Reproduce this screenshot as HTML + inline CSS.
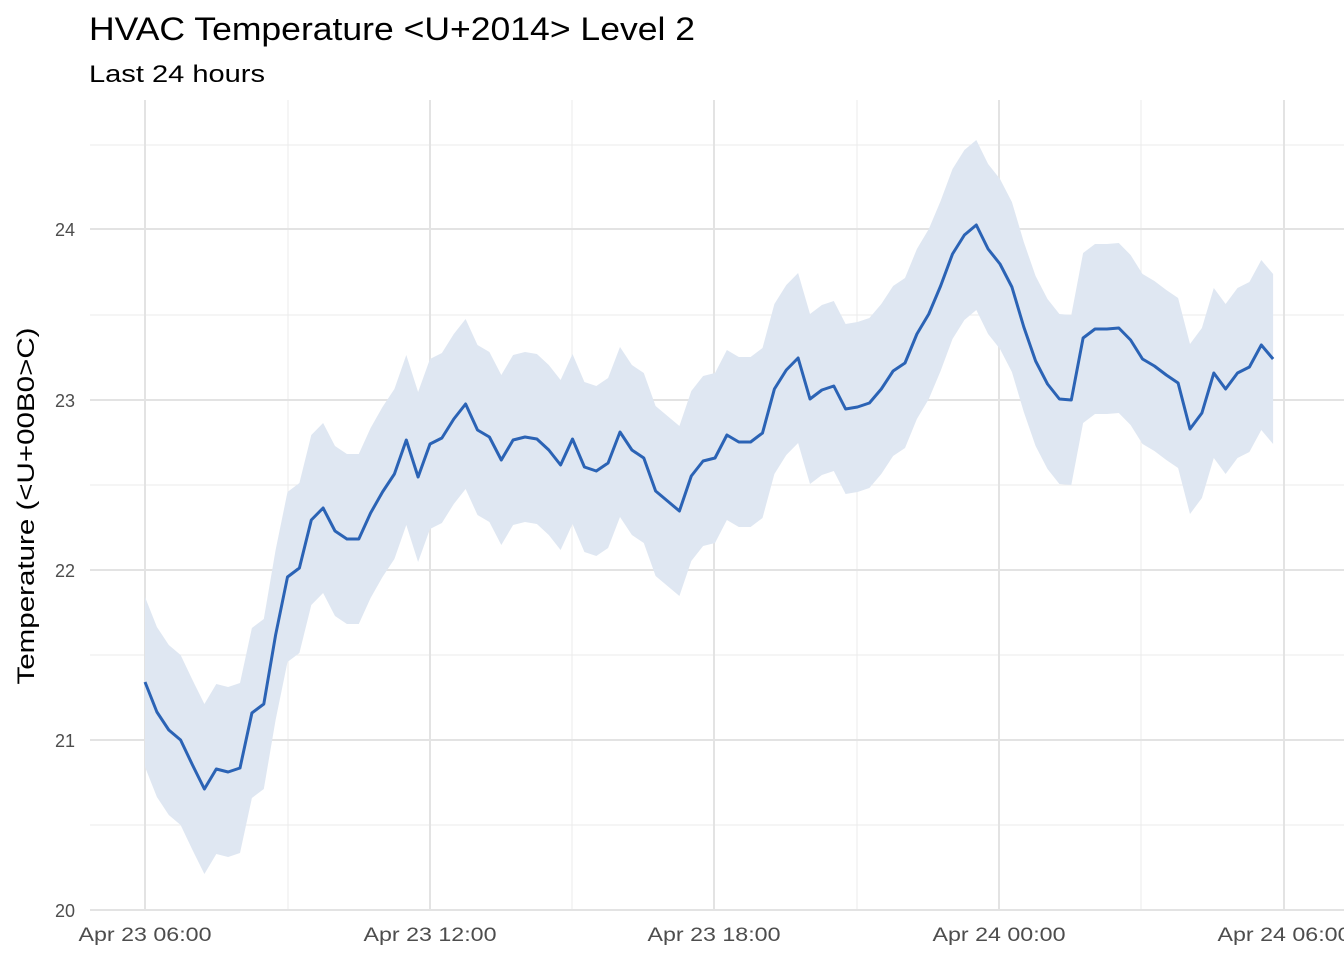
<!DOCTYPE html>
<html><head><meta charset="utf-8"><style>
html,body{margin:0;padding:0;background:#fff;}
svg{display:block;font-family:"Liberation Sans",Arial,sans-serif;}
</style></head><body>
<svg id="s" width="1344" height="960" viewBox="0 0 1344 960" xmlns="http://www.w3.org/2000/svg">
<rect width="1344" height="960" fill="#fff"/>
<g stroke="#ebebeb" stroke-width="1">
<line x1="90" x2="1344" y1="145" y2="145"/><line x1="90" x2="1344" y1="315" y2="315"/>
<line x1="90" x2="1344" y1="485" y2="485"/><line x1="90" x2="1344" y1="655" y2="655"/>
<line x1="90" x2="1344" y1="825" y2="825"/>
<line y1="100" y2="910" x1="288" x2="288"/><line y1="100" y2="910" x1="572" x2="572"/>
<line y1="100" y2="910" x1="857" x2="857"/><line y1="100" y2="910" x1="1141" x2="1141"/>
</g>
<g stroke="#e3e3e3" stroke-width="2">
<line x1="90" x2="1344" y1="229" y2="229"/><line x1="90" x2="1344" y1="400" y2="400"/>
<line x1="90" x2="1344" y1="570" y2="570"/><line x1="90" x2="1344" y1="740" y2="740"/>
<line x1="90" x2="1344" y1="910" y2="910"/>
<line y1="100" y2="910" x1="145" x2="145"/><line y1="100" y2="910" x1="430" x2="430"/>
<line y1="100" y2="910" x1="714" x2="714"/><line y1="100" y2="910" x1="999" x2="999"/>
<line y1="100" y2="910" x1="1284" x2="1284"/>
</g>
<path id="band" fill="#dfe7f2" stroke="none"/>
<path id="ln" fill="none" stroke="#2b63b5" stroke-width="3" stroke-linejoin="round"/>
<g fill="#4d4d4d" font-size="18" text-anchor="end">
<text x="75" y="236">24</text><text x="75" y="407">23</text><text x="75" y="577">22</text>
<text x="75" y="747">21</text><text x="75" y="917">20</text>
</g>
<g fill="#4d4d4d" font-size="19" text-anchor="middle">
<text x="145" y="941" textLength="133" lengthAdjust="spacingAndGlyphs">Apr 23 06:00</text>
<text x="430" y="941" textLength="133" lengthAdjust="spacingAndGlyphs">Apr 23 12:00</text>
<text x="714" y="941" textLength="133" lengthAdjust="spacingAndGlyphs">Apr 23 18:00</text>
<text x="999" y="941" textLength="133" lengthAdjust="spacingAndGlyphs">Apr 24 00:00</text>
<text x="1284" y="941" textLength="133" lengthAdjust="spacingAndGlyphs">Apr 24 06:00</text>
</g>
<text x="34" y="506" font-size="24" fill="#000" text-anchor="middle" textLength="357" lengthAdjust="spacingAndGlyphs" transform="rotate(-90 34 506)">Temperature (&lt;U+00B0&gt;C)</text>
<text x="89" y="40" font-size="32" fill="#000" textLength="606" lengthAdjust="spacingAndGlyphs">HVAC Temperature &lt;U+2014&gt; Level 2</text>
<text x="89" y="82" font-size="24" fill="#000" textLength="176" lengthAdjust="spacingAndGlyphs">Last 24 hours</text>
</svg>
<script>
var ys=[682,712,730,740,765,789,769,772,768,713,704,635,577,568,520,508,531,539,539,513,492,474,440,477,444,438,419,404,430,437,460,440,437,439,450,465,439,467,471,463,432,450,458,491,501,511,476,461,458,435,442,442,433,389,370,358,399,390,386,409,407,403,389,371,363,334,314,286,254,235,225,249,264,287,327,361,384,399,400,338,329,329,328,340,359,366,375,383,429,413,373,389,373,367,345,359];
var pts=[];for(var i=0;i<ys.length;i++){pts.push([145+i*11.875,ys[i]]);}
var d="M"+pts.map(function(a){return a[0].toFixed(1)+","+a[1];}).join("L");
document.getElementById("ln").setAttribute("d",d);
var upper=pts.map(function(a){return a[0].toFixed(1)+","+(a[1]-85);});
var lower=pts.slice().reverse().map(function(a){return a[0].toFixed(1)+","+(a[1]+85);});
document.getElementById("band").setAttribute("d","M"+upper.join("L")+"L"+lower.join("L")+"Z");
</script>
</body></html>
